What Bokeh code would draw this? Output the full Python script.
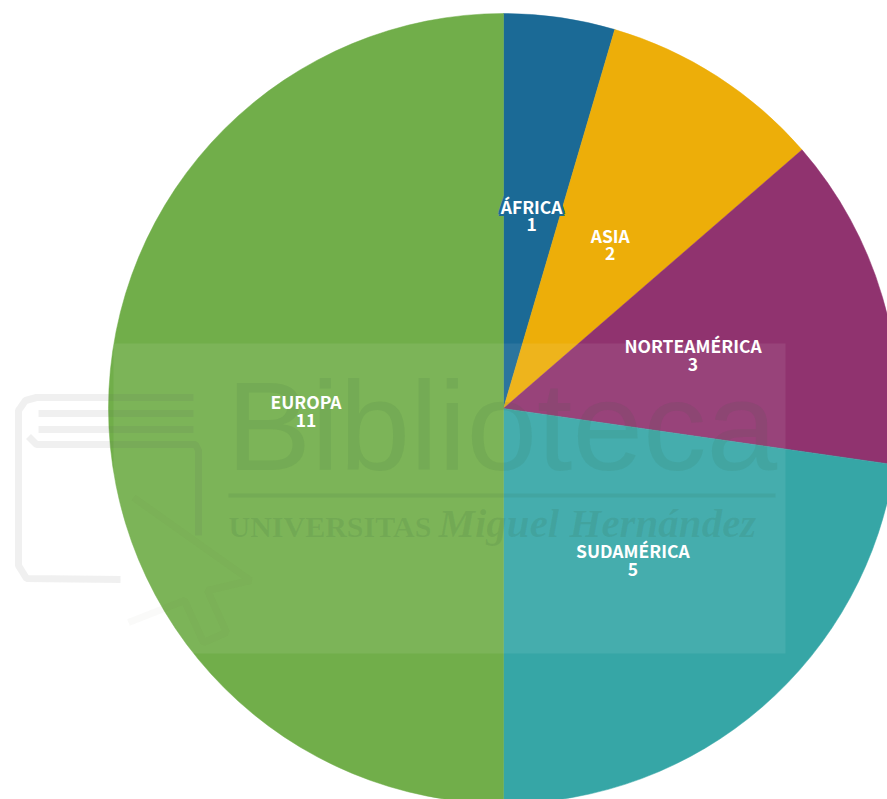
import numpy as np
from bokeh.plotting import figure
from bokeh.models import Range1d
from bokeh.core.properties import value
from bokeh.embed import file_html
from bokeh.resources import INLINE

categories = ["ÁFRICA", "ASIA", "NORTEAMÉRICA", "SUDAMÉRICA", "EUROPA"]
counts = [1, 2, 3, 5, 11]
colors = ["#1b6a96", "#edae09", "#90336f", "#36a6a6", "#71ae4a"]

CX, CY, R = 503, -408, 395
FONT = "Noto Sans CJK SC"
LABEL_SIZE = "17.5px"

cum = np.cumsum([0] + counts) / sum(counts) * 2 * np.pi
starts = np.pi / 2 - cum[1:]
ends = np.pi / 2 - cum[:-1]
mids = (cum[1:] + cum[:-1]) / 2
lx = CX + R / 2 * np.sin(mids)
ly = CY + R / 2 * np.cos(mids)

p = figure(width=887, height=799, output_backend="svg", toolbar_location=None,
           x_range=Range1d(0, 887), y_range=Range1d(-799, 0),
           min_border=0, outline_line_color=None, background_fill_color="white",
           border_fill_color="white")
p.axis.visible = False
p.grid.visible = False

p.wedge(x=CX, y=CY, radius=R, start_angle=starts, end_angle=ends,
        fill_color=colors, line_color=colors, line_width=0.5)

# Africa label halo
for dx, dy in [(-2.5, 0), (2.5, 0), (0, -2.5), (0, 2.5), (-2, -2), (2, 2), (-2, 2), (2, -2)]:
    p.text(x=[lx[0] + dx], y=[ly[0] + 7 + dy], text=[categories[0]], text_color=colors[0],
           text_font=value(FONT), text_font_style="bold", text_font_size=LABEL_SIZE,
           text_align="center", text_baseline="middle")

# Watermark overlay
WM = "#2f5f3a"
p.quad(left=113, right=785, bottom=-653, top=-343, fill_color="white", fill_alpha=0.08, line_color=None)
p.text(x=[226], y=[-425], text=["Biblioteca"], text_color=WM, text_alpha=0.10,
       text_font=value("Liberation Sans"), text_font_size="127px", text_baseline="alphabetic")
p.quad(left=228, right=775, bottom=-497, top=-493, fill_color=WM, fill_alpha=0.10, line_color=None)
p.text(x=[228], y=[-526], text=["UNIVERSITAS"], text_color=WM, text_alpha=0.12,
       text_font=value("Liberation Serif"), text_font_style="bold", text_font_size="30px",
       text_baseline="alphabetic")
p.text(x=[438], y=[-522], text=["Miguel Hernández"], text_color=WM, text_alpha=0.12,
       text_font=value("Liberation Serif"), text_font_style="bold italic", text_font_size="41px",
       text_baseline="alphabetic")
# Book and cursor of the watermark
p.multi_line(xs=[[193, 36, 25, 18, 18, 26, 120], [38, 193], [38, 193], [28, 36, 195, 198, 198]],
             ys=[[-397, -397, -400, -410, -565, -578, -579], [-413, -413], [-429, -429],
                 [-436, -444, -444, -450, -535]],
             line_color="#555555", line_alpha=0.09, line_width=7)
p.multi_line(xs=[[133, 250, 207, 226, 203, 184, 128]],
             ys=[[-497, -580, -590, -632, -642, -600, -622]],
             line_color="#555533", line_alpha=0.03, line_width=7)

# Labels
p.text(x=lx, y=ly + 7, text=categories, text_color="white",
       text_font=value(FONT), text_font_style="bold", text_font_size=LABEL_SIZE,
       text_align="center", text_baseline="middle")
p.text(x=lx, y=ly - 11.5, text=[str(c) for c in counts], text_color="white",
       text_font=value(FONT), text_font_style="bold", text_font_size=LABEL_SIZE,
       text_align="center", text_baseline="middle")

open("out.html", "w").write(file_html(p, INLINE))
